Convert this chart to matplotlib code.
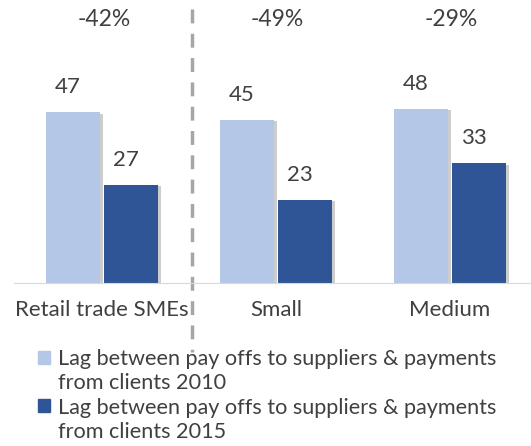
import matplotlib
matplotlib.use('Agg')
import matplotlib.pyplot as plt
import matplotlib.patheffects as pe
from matplotlib.patches import Patch
import numpy as np

# данные
categories = ['Retail trade SMEs', 'Small', 'Medium']
lag_2010 = [47, 45, 48]
lag_2015 = [27, 23, 33]
changes = ['-42%', '-49%', '-29%']
labels = ['Lag between pay offs to suppliers & payments', 'from clients 2010',
          'Lag between pay offs to suppliers & payments', 'from clients 2015']

c_light = '#B4C7E7'
c_dark = '#2F5597'
c_text = '#404040'

plt.rcParams['font.family'] = ['Lato', 'DejaVu Sans']

fig = plt.figure(figsize=(5.31, 4.46), dpi=100)
W, H = 531, 446
ax = fig.add_axes([14 / W, (H - 283) / H, (W - 14) / W, 283 / H])

x = np.arange(len(categories))
w = 0.31
shadow = [pe.SimplePatchShadow(offset=(2, -1), shadow_rgbFace='#909090', alpha=0.45), pe.Normal()]
b1 = ax.bar(x - 0.167, lag_2010, w, color=c_light, path_effects=shadow)
b2 = ax.bar(x + 0.167, lag_2015, w, color=c_dark, path_effects=shadow)

for bars in (b1, b2):
    for r in bars:
        ax.annotate(str(int(r.get_height())), (r.get_x() + r.get_width() / 2 - 0.03, r.get_height()),
                    xytext=(0, 18), textcoords='offset points', ha='center', va='center',
                    fontsize=16, color=c_text)

for i, t in enumerate(changes):
    ax.text(x[i] + 0.01, 72.6, t, ha='center', va='center', fontsize=16.5, color=c_text)

ax.set_xlim(-0.506, 2.466)
ax.set_ylim(0, 78)
ax.set_xticks(x)
ax.set_xticklabels(categories, fontsize=16, color=c_text)
ax.tick_params(axis='x', length=0, pad=12)
ax.set_yticks([])
for s in ['top', 'right', 'left']:
    ax.spines[s].set_visible(False)
ax.spines['bottom'].set_color('#D9D9D9')

# пунктирная линия-разделитель
ax.plot([0.517, 0.517], [75.4, -19], color='#A6A6A6', lw=2.5, ls=(0, (4, 3)), clip_on=False)

# легенда: вторая строка подписи - отдельная запись без маркера
handles = [Patch(color=c_light, label=labels[0]), Patch(alpha=0, label=labels[1]),
           Patch(color=c_dark, label=labels[2]), Patch(alpha=0, label=labels[3])]
leg = fig.legend(handles=handles, loc='upper left', bbox_to_anchor=(27 / W, 1 - 338 / H),
                 frameon=False, fontsize=15.6, handlelength=0.55, handleheight=0.55,
                 handletextpad=0.4, labelspacing=0.2, labelcolor=c_text, borderpad=0)

fig.savefig('out.png', dpi=100)
